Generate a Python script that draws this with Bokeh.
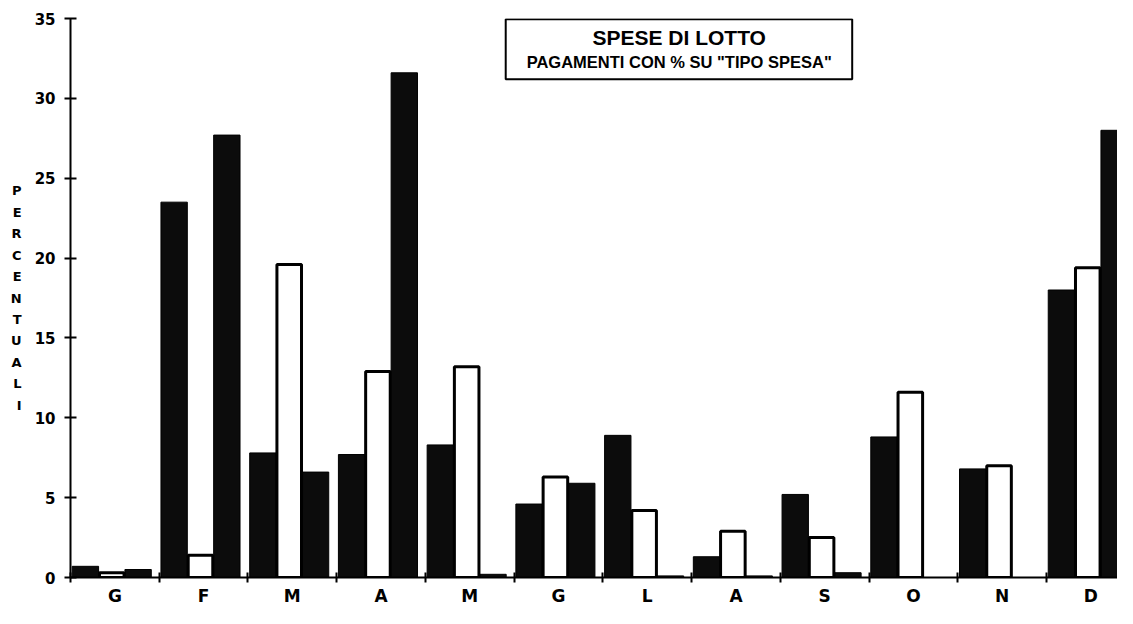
from bokeh.plotting import figure
from bokeh.models import Range1d, FixedTicker, Label, BoxAnnotation
from bokeh.embed import file_html
from bokeh.resources import INLINE

# ---- data ----
months = ["G", "F", "M", "A", "M", "G", "L", "A", "S", "O", "N", "D"]
serie_1 = [0.7, 23.5, 7.8, 7.7, 8.3, 4.6, 8.9, 1.3, 5.2, 8.8, 6.8, 18.0]
serie_2 = [0.3, 1.4, 19.6, 12.9, 13.2, 6.3, 4.2, 2.9, 2.5, 11.6, 7.0, 19.4]
serie_3 = [0.5, 27.7, 6.6, 31.6, 0.2, 5.9, 0.1, 0.1, 0.3, 0.0, 0.0, 28.0]
y_ticks = [0, 5, 10, 15, 20, 25, 30, 35]
title_text = "SPESE DI LOTTO"
subtitle_text = "PAGAMENTI CON % SU \"TIPO SPESA\""
y_label = "PERCENTUALI"

FONT = "DejaVu Sans"
DARK = "#0c0c0c"

p = figure(width=1117, height=608, output_backend="svg", toolbar_location=None,
           x_range=Range1d(0, 11.8), y_range=Range1d(0, 35),
           min_border_left=70, min_border_right=0, min_border_top=18, min_border_bottom=22)
p.outline_line_color = None
p.grid.visible = False
p.background_fill_color = "white"
p.border_fill_color = "white"

idx = list(range(len(months)))
bw = 0.297
x1 = [i + 0.168 for i in idx]
x2 = [i + 0.465 for i in idx]
x3 = [i + 0.762 for i in idx]

p.vbar(x=x1, top=serie_1, width=bw, bottom=0, fill_color=DARK, line_color="black", line_width=1)
p.vbar(x=x3, top=serie_3, width=bw, bottom=0, fill_color=DARK, line_color="black", line_width=1)
p.vbar(x=x2, top=serie_2, width=bw - 0.02, bottom=0, fill_color="white", line_color="black", line_width=3)

# x axis
xa = p.xaxis[0]
xa.ticker = FixedTicker(ticks=[i + 0.5 for i in idx], minor_ticks=list(range(len(months) + 1)))
xa.major_label_overrides = {i + 0.5: m for i, m in zip(idx, months)}
xa.major_tick_line_color = None
xa.major_tick_out = 0
xa.major_tick_in = 0
xa.minor_tick_in = 5
xa.minor_tick_out = 5
xa.minor_tick_line_color = "black"
xa.minor_tick_line_width = 2
xa.axis_line_width = 2
xa.major_label_standoff = 3
xa.major_label_text_font = FONT
xa.major_label_text_font_style = "bold"
xa.major_label_text_font_size = "17px"
xa.major_label_text_line_height = 0.9
xa.major_label_text_color = "black"

# y axis
ya = p.yaxis[0]
ya.ticker = FixedTicker(ticks=y_ticks, minor_ticks=[])
ya.major_tick_in = 6
ya.major_tick_out = 6
ya.major_tick_line_width = 2
ya.axis_line_width = 2
ya.major_label_standoff = 9
ya.major_label_text_font = FONT
ya.major_label_text_font_style = "bold"
ya.major_label_text_font_size = "15px"
ya.major_label_text_color = "black"
ya.axis_label = "\n".join(list(y_label))
ya.axis_label_orientation = "horizontal"
ya.axis_label_text_font = FONT
ya.axis_label_text_font_style = "bold"
ya.axis_label_text_font_size = "13px"
ya.axis_label_text_line_height = 1.43
ya.axis_label_text_color = "black"
ya.axis_label_standoff = 10

# title box
p.add_layout(BoxAnnotation(left=4.905, right=8.81, top=34.95, bottom=31.2,
                           fill_color="white", fill_alpha=1.0, line_color="black",
                           line_alpha=1.0, line_width=2))
p.add_layout(Label(x=6.86, y=33.78, text=title_text, text_font="Liberation Sans",
                   text_font_style="bold", text_font_size="21px",
                   text_align="center", text_baseline="middle", text_color="black"))
p.add_layout(Label(x=6.86, y=32.25, text=subtitle_text, text_font="Liberation Sans",
                   text_font_style="bold", text_font_size="16.5px",
                   text_align="center", text_baseline="middle", text_color="black"))

open("out.html", "w").write(file_html(p, INLINE))
